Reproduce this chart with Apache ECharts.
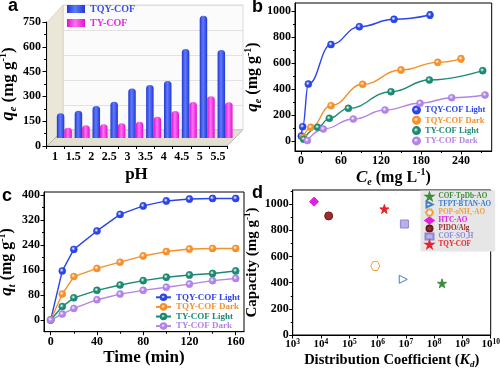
<!DOCTYPE html>
<html><head><meta charset="utf-8">
<script src="https://cdn.jsdelivr.net/npm/echarts@6/dist/echarts.min.js"></script>
<style>html,body{margin:0;padding:0;background:#fff}#c{width:500px;height:370px}</style>
</head><body><div id="c"></div>
<script>
// ---------- Panel a : pH effect ----------
const phLabels = ['1','1.5','2','2.5','3','3.5','4','4.5','5','5.5'];
const aTqy = [150,165,194,220,300,321,345,538,740,532];
const aTy  = [62,77,83,89,99,129,163,218,252,216];

// ---------- Panel b : isotherms [Ce, qe] ----------
const bTqyLight = [[0.5,38],[2.5,110],[11,438],[45,742],[87.5,879],[139.5,936],[193.5,969]];
const bTqyDark  = [[3.5,28],[14.5,105],[45,272],[92.5,436],[150,546],[205,605],[240,632]];
const bTyLight  = [[4,14],[25,105],[42.5,174],[71,251],[135,379],[192.5,469],[272.5,541]];
const bTyDark   = [[9.5,3],[33.5,92],[78.5,169],[126,238],[178.5,290],[226,333],[276,354]];
const bErrTqyLight = [6,14,18,22,20,22,25];
const bErrTqyDark  = [5,10,14,18,22,22,25];
const bErrTyLight  = [4,8,10,12,14,18,20];
const bErrTyDark   = [3,6,8,10,10,12,12];
const bXTicks = [0,60,120,180,240];
const bXMinor = [30,90,150,210,270];
const bYTicks = [0,200,400,600,800,1000];
const bYMinor = [100,300,500,700,900];

// ---------- Panel c : kinetics ----------
const cTime = [0,10,20,40,60,80,100,120,140,160];
const cTqyLight = [0,157,226,285,338,365,381,387,389,389];
const cTqyDark  = [0,83,139,165,185,205,219,227,229,229];
const cTyLight  = [0,43,71,95,112,126,137,144,149,157];
const cTyDark   = [0,19,37,65,83,95,105,115,126,133];
const cErr = [0,6,7,8,8,9,9,9,9,9];
const cXTicks = [0,40,80,120,160];
const cXMinor = [20,60,100,140];
const cYTicks = [0,80,160,240,320,400];
const cYMinor = [40,120,200,280,360];

// ---------- Panel d : comparison ----------
const dNames = ['COF-TpDb-AO','TFPT-BTAN-AO','POP-oNH\u2082-AO','HTC-AO','PIDO/Alg','COF-SO\u2083H','TQY-COF '];
const dKd  = [1.9e8, 8.1e6, 8.3e5, 5.7e3, 1.87e4, 8.9e6, 1.74e6];
const dCap = [395, 426, 528, 1020, 911, 849, 964];
const dYTicks = [0,200,400,600,800,1000];
const dYMinor = [100,300,500,700,900,1100];

const SERIF = "'Liberation Serif','Times New Roman',serif";
const SANS = "'Liberation Sans',Arial,sans-serif";
const COL = {blue:'#2c45e8', orange:'#f5902c', teal:'#1c8a72', purple:'#b283e8'};
const plain = function(v){ return String(v); };

function txt(size, color){ return {fontFamily:SERIF, fontWeight:'bold', fontSize:size, color:color||'#000'}; }
function richName(size){
  return Object.assign(txt(size), {rich:{
    n:{fontFamily:SERIF, fontWeight:'bold', fontSize:size, color:'#000', lineHeight:size+4},
    i:{fontFamily:SERIF, fontWeight:'bold', fontStyle:'italic', fontSize:size+1, color:'#000', lineHeight:size+4},
    sb:{fontFamily:SERIF, fontWeight:'bold', fontStyle:'italic', fontSize:Math.round(size*0.62), color:'#000', verticalAlign:'bottom', lineHeight:Math.round(size*0.62)},
    sp:{fontFamily:SERIF, fontWeight:'bold', fontSize:Math.round(size*0.6), color:'#000', verticalAlign:'top', lineHeight:Math.round(size*0.6)}
  }});
}
const blk = {color:'#000', width:1};

function majorAxis(gi, type, min, max, ticks, extra){
  return Object.assign({
    gridIndex:gi, type:type, min:min, max:max,
    axisLine:{show:true, onZero:false, lineStyle:blk},
    axisTick:{show:true, inside:false, length:3.5, customValues:ticks, lineStyle:blk},
    axisLabel:Object.assign(txt(12), {customValues:ticks, margin:4, formatter:plain}),
    splitLine:{show:false}
  }, extra||{});
}
function minorAxis(gi, type, min, max, ticks, pos){
  return {gridIndex:gi, type:type, min:min, max:max, position:pos,
    axisLine:{show:false, onZero:false}, axisLabel:{show:false},
    axisTick:{show:true, inside:false, length:2, customValues:ticks, lineStyle:blk},
    splitLine:{show:false}};
}
function ball(c){
  return {type:'radial', x:0.42, y:0.4, r:0.6, colorStops:[{offset:0,color:'#ffffff'},{offset:0.45,color:c},{offset:1,color:c}]};
}
function errItem(params, api){
  const x=api.value(0), y=api.value(1), e=api.value(2);
  const t=api.coord([x,y+e]), b=api.coord([x,y-e]);
  const st={stroke:api.visual('color'), lineWidth:1};
  const w=2.2;
  return {type:'group', children:[
    {type:'line', shape:{x1:t[0],y1:t[1],x2:b[0],y2:b[1]}, style:st},
    {type:'line', shape:{x1:t[0]-w,y1:t[1],x2:t[0]+w,y2:t[1]}, style:st},
    {type:'line', shape:{x1:b[0]-w,y1:b[1],x2:b[0]+w,y2:b[1]}, style:st}]};
}
function errSeries(xi, yi, pts, errs, color){
  return {type:'custom', xAxisIndex:xi, yAxisIndex:yi, renderItem:errItem, itemStyle:{color:color},
    encode:{x:0,y:1}, z:3, silent:true,
    data:pts.map((p,k)=>[p[0],p[1],errs[k]])};
}
function bLine(name, pts, color){
  return {type:'line', name:name, xAxisIndex:3, yAxisIndex:3, data:pts, smooth:0.45, smoothMonotone:'x',
    symbol:'circle', symbolSize:7, showSymbol:true, lineStyle:{color:color, width:1.4},
    itemStyle:{color:ball(color), borderColor:color, borderWidth:0.6}, z:4};
}
function cLine(name, ys, color){
  return {type:'line', name:name, xAxisIndex:5, yAxisIndex:5, data:cTime.map((t,k)=>[t,ys[k]]),
    symbol:'circle', symbolSize:7, lineStyle:{color:color, width:1.4},
    itemStyle:{color:ball(color), borderColor:color, borderWidth:0.6}, z:4};
}
function barGrad(dark, light){
  return {type:'linear', x:0, y:0, x2:1, y2:0, colorStops:[{offset:0,color:dark},{offset:0.45,color:light},{offset:1,color:dark}]};
}

const star5 = 'path://M50,0 L61,35 L98,35 L68,57 L79,91 L50,70 L21,91 L32,57 L2,35 L39,35 Z';
const triR = 'path://M0,0 L100,50 L0,100 Z';
const hexa = 'path://M25,0 L75,0 L100,43 L75,86 L25,86 L0,43 Z';
const dStyle = [
  {symbol:star5, size:9, color:'#3d8b3d', border:'#3d8b3d', text:'#3d8b3d'},
  {symbol:triR, size:8, color:'#ffffff', border:'#3f7fd0', text:'#3f7fd0'},
  {symbol:hexa, size:9, color:'#ffffff', border:'#f0a040', text:'#f0a040'},
  {symbol:'diamond', size:9, color:'#e01fe0', border:'#e01fe0', text:'#e01fe0'},
  {symbol:'circle', size:8, color:'#9a2e2e', border:'#6a1a1a', text:'#9a2e2e'},
  {symbol:'rect', size:8, color:'#b9b2ea', border:'#8f86d0', text:'#9088d8'},
  {symbol:star5, size:9, color:'#e8222a', border:'#e8222a', text:'#e8222a'}
];
const dSeries = dNames.map((n,k)=>({
  type:'scatter', name:n, xAxisIndex:7, yAxisIndex:7, data:[[dKd[k], dCap[k]]],
  symbol:dStyle[k].symbol, symbolSize:dStyle[k].size,
  itemStyle:{color:dStyle[k].color, borderColor:dStyle[k].border, borderWidth:1, opacity:1}, z:4
}));

const option = {
  animation:false,
  backgroundColor:'#ffffff',
  grid:[
    {left:46, top:22, width:181, height:124, outerBoundsMode:'none'},
    {left:63, top:5, width:180, height:125, show:true, backgroundColor:'#fbfbfb', borderColor:'#d0d0d0', borderWidth:0.8, outerBoundsMode:'none'},
    {left:55.4, top:14, width:178.6, height:124, outerBoundsMode:'none'},
    {left:295, top:3, width:196.7, height:148, show:true, borderColor:'#000', borderWidth:1, outerBoundsMode:'none'},
    {left:44, top:192, width:200, height:139.7, show:true, borderColor:'#000', borderWidth:1, outerBoundsMode:'none'},
    {left:292.7, top:190, width:198, height:145, show:true, borderColor:'#000', borderWidth:1, outerBoundsMode:'none'}
  ],
  xAxis:[
    {gridIndex:0, type:'category', data:phLabels,
      axisLine:{show:true, lineStyle:blk}, axisTick:{show:true, length:3, lineStyle:blk},
      axisLabel:Object.assign(txt(12), {margin:5, interval:0}),
      name:'pH', nameLocation:'middle', nameGap:20, nameTextStyle:txt(17)},
    {gridIndex:1, type:'category', data:phLabels, show:false},
    {gridIndex:2, type:'category', data:phLabels, show:false},
    majorAxis(3,'value',-9,286,bXTicks,{position:'bottom', name:'{i|C}{sb|e}{n| (mg L}{sp|-1}{n|)}', nameLocation:'middle', nameGap:14, nameTextStyle:richName(16)}),
    minorAxis(3,'value',-9,286,bXMinor,'bottom'),
    majorAxis(4,'value',-5.8,167.2,cXTicks,{position:'bottom', name:'Time (min)', nameLocation:'middle', nameGap:17, nameTextStyle:txt(17)}),
    minorAxis(4,'value',-5.8,167.2,cXMinor,'bottom'),
    {gridIndex:5, type:'log', logBase:10, min:1e3, max:1e10, splitNumber:7, position:'bottom',
      axisLine:{show:true, onZero:false, lineStyle:blk}, axisTick:{show:true, length:3.5, lineStyle:blk},
      minorTick:{show:false}, splitLine:{show:false},
      axisLabel:{margin:3, formatter:function(v){return '{n|10}{sp|'+Math.round(Math.log10(v))+'}';},
        rich:{n:{fontFamily:SERIF, fontWeight:'bold', fontSize:11, color:'#000', lineHeight:13},
              sp:{fontFamily:SERIF, fontWeight:'bold', fontSize:7.5, color:'#000', verticalAlign:'top', lineHeight:8}}},
      name:'{n|Distribution Coefficient (}{i|K}{sb|d}{n|)}', nameLocation:'middle', nameGap:16, nameTextStyle:richName(14.5)}
  ],
  yAxis:[
    {gridIndex:0, type:'value', min:0, max:750, interval:150,
      axisLine:{show:true, lineStyle:blk}, axisTick:{show:true, length:3.5, lineStyle:blk},
      minorTick:{show:true, splitNumber:2, length:2, lineStyle:blk},
      axisLabel:Object.assign(txt(12), {margin:5, formatter:plain}), splitLine:{show:false},
      name:'{i|q}{sb|e}{n| (mg g}{sp|-1}{n|)}', nameLocation:'middle', nameGap:21, nameTextStyle:richName(17)},
    {gridIndex:1, type:'value', min:0, max:750, interval:150,
      axisLine:{show:false}, axisTick:{show:false}, axisLabel:{show:false},
      splitLine:{show:true, lineStyle:{color:'#dcdcdc', width:0.8}}},
    {gridIndex:2, type:'value', min:0, max:750, show:false, splitLine:{show:false}},
    majorAxis(3,'value',-77,1061.5,bYTicks,{position:'left', name:'{i|q}{sb|e}{n| (mg g}{sp|-1}{n|)}', nameLocation:'middle', nameGap:30, nameTextStyle:richName(16)}),
    minorAxis(3,'value',-77,1061.5,bYMinor,'left'),
    majorAxis(4,'value',-37.4,409.6,cYTicks,{position:'left', name:'{i|q}{sb|t}{n| (mg g}{sp|-1}{n|)}', nameLocation:'middle', nameGap:27, nameTextStyle:richName(16)}),
    minorAxis(4,'value',-37.4,409.6,cYMinor,'left'),
    majorAxis(5,'value',0,1109,dYTicks,{position:'left', name:'{n|Capacity (mg g}{sp|-1}{n|)}', nameLocation:'middle', nameGap:31, nameTextStyle:richName(15)}),
    minorAxis(5,'value',0,1109,dYMinor,'left')
  ],
  legend:[
    {left:67, top:4, orient:'vertical', icon:'rect', itemWidth:18, itemHeight:8, itemGap:4, padding:0,
      textStyle:txt(10), selectedMode:false,
      data:[{name:'TQY-COF', textStyle:{color:'#3a4fe6'}}, {name:'TY-COF', textStyle:{color:'#e82be0'}}]},
    {left:412, top:105, orient:'vertical', icon:'circle', itemWidth:7, itemHeight:7, itemGap:0.3, padding:0,
      textStyle:Object.assign(txt(8.5), {lineHeight:10}), selectedMode:false,
      data:[{name:'TQY-COF Light', textStyle:{color:COL.blue}}, {name:'TQY-COF Dark', textStyle:{color:COL.orange}},
            {name:'TY-COF Light', textStyle:{color:COL.teal}}, {name:'TY-COF Dark', textStyle:{color:COL.purple}}]},
    {left:155, top:292.5, orient:'vertical', itemWidth:15, itemHeight:7, itemGap:0, padding:0,
      textStyle:Object.assign(txt(9), {lineHeight:9.6}), selectedMode:false,
      formatter:function(n){return n.trim();},
      data:[{name:'TQY-COF Light ', textStyle:{color:COL.blue}}, {name:'TQY-COF Dark ', textStyle:{color:COL.orange}},
            {name:'TY-COF Light ', textStyle:{color:COL.teal}}, {name:'TY-COF Dark ', textStyle:{color:COL.purple}}]},
    {left:420.5, top:190.5, orient:'vertical', itemWidth:8, itemHeight:6, itemGap:0, padding:[2,4,3,4],
      backgroundColor:'#e6e6e6', textStyle:Object.assign(txt(7.2), {lineHeight:8}), selectedMode:false,
      formatter:function(n){return n.trim();},
      data:dNames.map((n,k)=>({name:n, textStyle:{color:dStyle[k].text}}))}
  ],
  graphic:[
    {type:'polygon', z:0, shape:{points:[[47.5,146],[47.5,22],[63,5],[63,130]]}, style:{fill:'#ebe7d8', stroke:'#c9c4b2', lineWidth:0.6}},
    {type:'polygon', z:0, shape:{points:[[47,146],[227,146],[243,130],[63,130]]}, style:{fill:'#e4e0cf', stroke:'#9a968a', lineWidth:0.6}},
    {type:'text', z:10, style:{x:8, y:6, text:'a', font:'bold 18px '+SANS, fill:'#000', verticalAlign:'middle'}},
    {type:'text', z:10, style:{x:252, y:7, text:'b', font:'bold 18px '+SANS, fill:'#000', verticalAlign:'middle'}},
    {type:'text', z:10, style:{x:2, y:196, text:'c', font:'bold 18px '+SANS, fill:'#000', verticalAlign:'middle'}},
    {type:'text', z:10, style:{x:252, y:193, text:'d', font:'bold 18px '+SANS, fill:'#000', verticalAlign:'middle'}}
  ],
  series:[
    {type:'bar', name:'TQY-COF', xAxisIndex:2, yAxisIndex:2, data:aTqy, barWidth:7.5, barGap:'0%',
      itemStyle:{color:barGrad('#2237d0','#5f7bff'), borderRadius:[3.5,3.5,0,0]}, z:3},
    {type:'bar', name:'TY-COF', xAxisIndex:2, yAxisIndex:2, data:aTy, barWidth:7.5, barGap:'0%',
      itemStyle:{color:barGrad('#e010d0','#ff70f4'), borderRadius:[3.5,3.5,0,0]}, z:3},
    bLine('TQY-COF Light', bTqyLight, COL.blue),
    bLine('TQY-COF Dark', bTqyDark, COL.orange),
    bLine('TY-COF Light', bTyLight, COL.teal),
    bLine('TY-COF Dark', bTyDark, COL.purple),
    errSeries(3,3,bTqyLight,bErrTqyLight,COL.blue),
    errSeries(3,3,bTqyDark,bErrTqyDark,COL.orange),
    errSeries(3,3,bTyLight,bErrTyLight,COL.teal),
    errSeries(3,3,bTyDark,bErrTyDark,COL.purple),
    cLine('TQY-COF Light ', cTqyLight, COL.blue),
    cLine('TQY-COF Dark ', cTqyDark, COL.orange),
    cLine('TY-COF Light ', cTyLight, COL.teal),
    cLine('TY-COF Dark ', cTyDark, COL.purple),
    errSeries(5,5,cTime.map((t,k)=>[t,cTqyLight[k]]),cErr,COL.blue),
    errSeries(5,5,cTime.map((t,k)=>[t,cTqyDark[k]]),cErr,COL.orange),
    errSeries(5,5,cTime.map((t,k)=>[t,cTyLight[k]]),cErr,COL.teal),
    errSeries(5,5,cTime.map((t,k)=>[t,cTyDark[k]]),cErr,COL.purple)
  ].concat(dSeries)
};
const chart = echarts.init(document.getElementById('c'), null, {renderer:'canvas'});
chart.setOption(option);
</script></body></html>
